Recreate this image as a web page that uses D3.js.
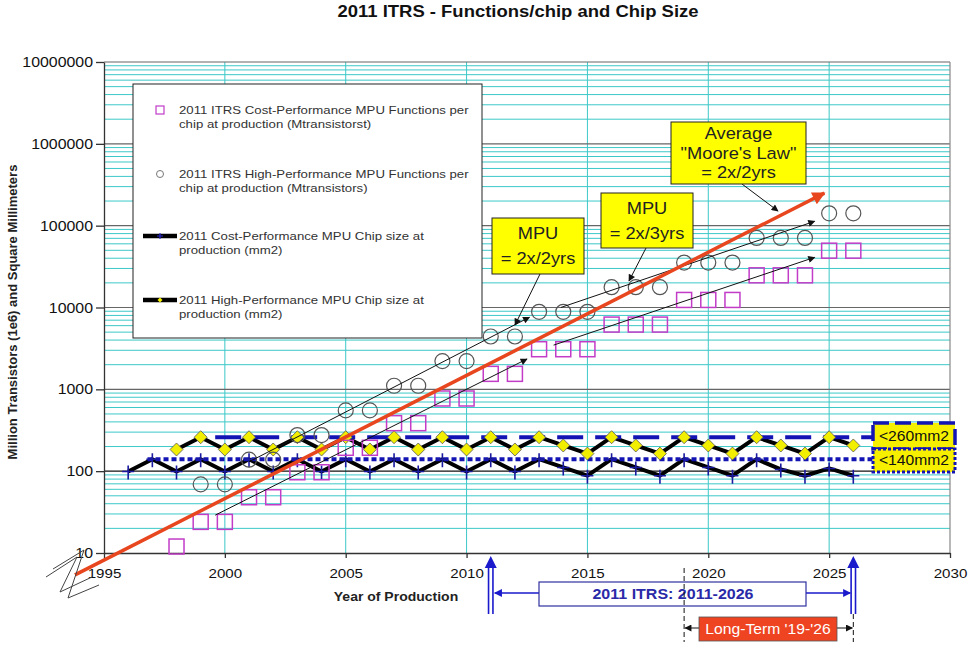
<!DOCTYPE html>
<html>
<head>
<meta charset="utf-8">
<script src="https://cdn.jsdelivr.net/npm/d3@7"></script>
<style>
body { margin: 0; background: #fff; }
svg { display: block; }
</style>
</head>
<body>
<div id="chart"></div>
<script>
var width = 969,
	height = 645,
	FONT = "'Liberation Sans', Arial, Helvetica, sans-serif",
	SX = 1.12;   // the picture is a bit stretched sideways, so is the text

// ---- data ----
var cpYears = [1998, 1999, 2000, 2001, 2002, 2003, 2004, 2005, 2006, 2007, 2008, 2009, 2010,
	2011, 2012, 2013, 2014, 2015, 2016, 2017, 2018, 2019, 2020, 2021, 2022, 2023, 2024, 2025, 2026];
var cpFunctions = [12, 24, 24, 48, 48, 97, 97, 193, 193, 386, 386, 773, 773,
	1546, 1546, 3092, 3092, 3092, 6184, 6184, 6184, 12368, 12368, 12368, 24736, 24736, 24736, 49471, 49471];

var hpYears = [1999, 2000, 2001, 2002, 2003, 2004, 2005, 2006, 2007, 2008, 2009, 2010,
	2011, 2012, 2013, 2014, 2015, 2016, 2017, 2018, 2019, 2020, 2021, 2022, 2023, 2024, 2025, 2026];
var hpFunctions = [69, 69, 138, 138, 276, 276, 553, 553, 1106, 1106, 2212, 2212,
	4424, 4424, 8848, 8848, 8848, 17696, 17696, 17696, 35391, 35391, 35391, 70782, 70782, 70782, 141564, 141564];

var cpChipYears = [1996, 1997, 1998, 1999, 2000, 2001, 2002, 2003, 2004, 2005, 2006, 2007, 2008, 2009, 2010,
	2011, 2012, 2013, 2014, 2015, 2016, 2017, 2018, 2019, 2020, 2021, 2022, 2023, 2024, 2025, 2026];
var cpChipSize = [99, 140, 99, 140, 99, 140, 99, 140, 99, 140, 99, 140, 99, 140, 99,
	140, 99, 140, 111, 88, 140, 111, 88, 140, 111, 88, 140, 105, 88, 108, 88];

var hpChipYears = [1998, 1999, 2000, 2001, 2002, 2003, 2004, 2005, 2006, 2007, 2008, 2009, 2010,
	2011, 2012, 2013, 2014, 2015, 2016, 2017, 2018, 2019, 2020, 2021, 2022, 2023, 2024, 2025, 2026];
var hpChipSize = [184, 260, 184, 260, 184, 260, 184, 260, 184, 260, 184, 260, 184,
	260, 184, 260, 206, 164, 260, 206, 164, 260, 206, 164, 260, 206, 164, 260, 206];

var limitValues = [260, 140];
var limitLabels = ["<260mm2", "<140mm2"];
var limitStart = [1999.6, 1996.8];
var limitEnd = 2026.8;

// average Moore's law, 2x every 2 years
var mooreLine = [[1993.8, 5.4], [2024.8, 250000]];
// MPU trend arrows: cost-perf 2x/2yrs, high-perf 2x/2yrs, cost-perf 2x/3yrs, high-perf 2x/3yrs
var trendLines = [
	[[1999.6, 29], [2012.5, 2350]],
	[[2001.0, 130], [2012.6, 7600]],
	[[2013.6, 3470], [2024.4, 41000]],
	[[2013.9, 10000], [2024.4, 113000]]
];

var xTicks = [1995, 2000, 2005, 2010, 2015, 2020, 2025, 2030];
var yTicks = [10, 100, 1000, 10000, 100000, 1000000, 10000000];
var itrsStart = 2011, itrsEnd = 2026, longTermStart = 2019;

var legendLabels = [
	["2011 ITRS Cost-Performance MPU Functions per", "chip at production (Mtransistorst)"],
	["2011 ITRS High-Performance MPU Functions per", "chip at production (Mtransistors)"],
	["2011 Cost-Performance MPU Chip size at", "production (mm2)"],
	["2011 High-Performance MPU Chip size at", "production (mm2)"]
];

// ---- setup ----
var svg = d3.select("#chart").append("svg")
	.attr("width", width)
	.attr("height", height);

var x = d3.scaleLinear().domain([1995, 2030]).range([104, 950]);
var y = d3.scaleLog().domain([10, 1e7]).range([553, 62]);

var defs = svg.append("defs");
function marker(id, color, w, h) {
	defs.append("marker")
		.attr("id", id)
		.attr("viewBox", "0 0 10 10")
		.attr("refX", 9).attr("refY", 5)
		.attr("markerWidth", w).attr("markerHeight", h)
		.attr("markerUnits", "userSpaceOnUse")
		.attr("orient", "auto")
		.append("path")
		.attr("d", "M0,0L10,5L0,10z")
		.attr("fill", color);
}
marker("arrRed", "#e8461e", 18, 13);
marker("arrBlack", "#111", 10, 7);
marker("arrBlue", "#1a1acc", 11, 8);

function txt(g, px, py, s, size, opt) {
	opt = opt || {};
	return g.append("text")
		.attr("transform", "translate(" + px + "," + py + ") scale(" + SX + ",1)")
		.attr("dy", "0.35em")
		.attr("text-anchor", opt.anchor || "start")
		.attr("font-family", FONT)
		.attr("font-size", size)
		.attr("font-weight", opt.weight || "normal")
		.attr("fill", opt.fill || "#111")
		.text(s);
}

// ---- grid ----
var grid = svg.append("g");
var minor = [];
for (var e = 1; e < 7; e++) {
	for (var k = 2; k < 10; k++) minor.push(k * Math.pow(10, e));
}
grid.selectAll("line.minor").data(minor).enter().append("line")
	.attr("x1", x(1995)).attr("x2", x(2030))
	.attr("y1", function(d) { return y(d); })
	.attr("y2", function(d) { return y(d); })
	.attr("stroke", "#3cc8c8").attr("stroke-width", 1);
grid.selectAll("line.vert").data([2000, 2005, 2010, 2015, 2020, 2025]).enter().append("line")
	.attr("x1", function(d) { return x(d); })
	.attr("x2", function(d) { return x(d); })
	.attr("y1", y(1e7)).attr("y2", y(10))
	.attr("stroke", "#3cc8c8").attr("stroke-width", 1);
grid.selectAll("line.major").data(yTicks.slice(1)).enter().append("line")
	.attr("x1", x(1995)).attr("x2", x(2030))
	.attr("y1", function(d) { return y(d); })
	.attr("y2", function(d) { return y(d); })
	.attr("stroke", function(d) { return d == 100 ? "#111" : "#666"; })
	.attr("stroke-width", 1.2);
grid.append("line")
	.attr("x1", x(2030)).attr("x2", x(2030))
	.attr("y1", y(1e7)).attr("y2", y(10))
	.attr("stroke", "#888").attr("stroke-width", 1.2);

// ---- axes ----
var yAxis = svg.append("g")
	.attr("transform", "translate(" + x(1995) + ",0)")
	.call(d3.axisLeft(y).tickValues(yTicks).tickFormat(d3.format("d"))
		.tickSize(8).tickSizeOuter(0).tickPadding(3));
var xAxis = svg.append("g")
	.attr("transform", "translate(0," + y(10) + ")")
	.call(d3.axisBottom(x).tickValues(xTicks).tickFormat(d3.format("d"))
		.tickSize(5).tickSizeOuter(0).tickPadding(10));
[yAxis, xAxis].forEach(function(a) {
	a.selectAll("path, line").attr("stroke", "#333").attr("stroke-width", 1.3);
	a.selectAll("text")
		.attr("font-family", FONT).attr("font-size", 13.5).attr("fill", "#111")
		.attr("transform", "scale(" + SX + ",1)");
});
yAxis.selectAll("text").attr("x", -11 / SX).attr("font-size", 14.2);

// ---- chip size lines ----
var line = d3.line()
	.x(function(d) { return x(d[0]); })
	.y(function(d) { return y(d[1]); });

var cpChip = d3.zip(cpChipYears, cpChipSize);
var hpChip = d3.zip(hpChipYears, hpChipSize);

svg.append("path").datum(cpChip).attr("d", line)
	.attr("fill", "none").attr("stroke", "#000").attr("stroke-width", 4).attr("stroke-linejoin", "round");
svg.append("path").datum(hpChip).attr("d", line)
	.attr("fill", "none").attr("stroke", "#000").attr("stroke-width", 4).attr("stroke-linejoin", "round");

// limit lines
limitValues.forEach(function(v, i) {
	svg.append("line")
		.attr("x1", x(limitStart[i])).attr("x2", x(limitEnd))
		.attr("y1", y(v)).attr("y2", y(v))
		.attr("stroke", "#1414b4").attr("stroke-width", 4)
		.attr("stroke-dasharray", i == 0 ? "26,12" : "5,3");
});

// markers on chip lines
svg.selectAll("path.plus").data(cpChip).enter().append("path")
	.attr("transform", function(d) { return "translate(" + x(d[0]) + "," + y(d[1]) + ")"; })
	.attr("d", "M-6,0H6M0,-6V8")
	.attr("stroke", "#1a1aa0").attr("stroke-width", 1.6);
svg.selectAll("path.diamond").data(hpChip).enter().append("path")
	.attr("transform", function(d) { return "translate(" + x(d[0]) + "," + y(d[1]) + ")"; })
	.attr("d", "M0,-6.5L6.5,0L0,6.5L-6.5,0Z")
	.attr("fill", "#f2ee00").attr("stroke", "#555").attr("stroke-width", 0.8);

// ---- functions per chip ----
svg.selectAll("rect.cp").data(d3.zip(cpYears, cpFunctions)).enter().append("rect")
	.attr("x", function(d) { return x(d[0]) - 7.5; })
	.attr("y", function(d) { return y(d[1]) - 7.5; })
	.attr("width", 15).attr("height", 15)
	.attr("fill", "none").attr("stroke", "#c23cc8").attr("stroke-width", 1.5);
svg.selectAll("circle.hp").data(d3.zip(hpYears, hpFunctions)).enter().append("circle")
	.attr("cx", function(d) { return x(d[0]); })
	.attr("cy", function(d) { return y(d[1]); })
	.attr("r", 7.5)
	.attr("fill", "none").attr("stroke", "#555").attr("stroke-width", 1.2);

// trend arrows
trendLines.forEach(function(t) {
	svg.append("path").datum(t).attr("d", line)
		.attr("fill", "none").attr("stroke", "#111").attr("stroke-width", 1)
		.attr("marker-end", "url(#arrBlack)");
});

// Moore's law
svg.append("path").datum(mooreLine).attr("d", line)
	.attr("fill", "none").attr("stroke", "#e8461e").attr("stroke-width", 3.5)
	.attr("marker-end", "url(#arrRed)");

// axis break squiggle
svg.append("path").attr("d", "M46,577L77,557L60,592L92,577")
	.attr("fill", "none").attr("stroke", "#444").attr("stroke-width", 1);
svg.append("path").attr("d", "M53,569L84,550L68,598L99,585")
	.attr("fill", "none").attr("stroke", "#444").attr("stroke-width", 1);

// ---- size limit labels ----
var lb = svg.append("g");
lb.append("rect").attr("x", 873).attr("y", 423).attr("width", 82).attr("height", 26)
	.attr("fill", "#f6f000").attr("stroke", "#1414b4").attr("stroke-width", 3.5).attr("stroke-dasharray", "16,6");
lb.append("rect").attr("x", 873).attr("y", 449).attr("width", 82).attr("height", 23)
	.attr("fill", "#f6f000").attr("stroke", "#1414b4").attr("stroke-width", 3).attr("stroke-dasharray", "3,2");
txt(lb, 914, 436, limitLabels[0], 14, { anchor: "middle" });
txt(lb, 914, 460, limitLabels[1], 14, { anchor: "middle" });

// ---- callouts ----
function callout(bx, by, bw, bh, lines, from, to) {
	var g = svg.append("g");
	g.append("line").attr("x1", from[0]).attr("y1", from[1]).attr("x2", to[0]).attr("y2", to[1])
		.attr("stroke", "#111").attr("stroke-width", 1).attr("marker-end", "url(#arrBlack)");
	g.append("rect").attr("x", bx).attr("y", by).attr("width", bw).attr("height", bh)
		.attr("fill", "#ffff00").attr("stroke", "#222").attr("stroke-width", 1);
	var step = bh / (lines.length + 0.2);
	lines.forEach(function(s, i) {
		txt(g, bx + bw / 2, by + step * (i + 0.6), s, 16.3, { anchor: "middle", fill: "#222" });
	});
}
callout(492, 218, 92, 56, ["MPU", "= 2x/2yrs"], [540, 274], [515, 325]);
callout(601, 193, 92, 55, ["MPU", "= 2x/3yrs"], [646, 248], [629, 281]);
callout(671, 122, 135, 62, ["Average", "\"Moore's Law\"", "= 2x/2yrs"], [742, 184], [778, 211]);

// ---- legend ----
var leg = svg.append("g");
leg.append("rect").attr("x", 133).attr("y", 84).attr("width", 349).attr("height", 254)
	.attr("fill", "#fff").attr("stroke", "#222").attr("stroke-width", 1);
var legY = [110, 174, 236, 300];
leg.append("rect").attr("x", 156).attr("y", legY[0] - 4).attr("width", 8).attr("height", 8)
	.attr("fill", "none").attr("stroke", "#c23cc8").attr("stroke-width", 1.2);
leg.append("circle").attr("cx", 160).attr("cy", legY[1]).attr("r", 3.5)
	.attr("fill", "none").attr("stroke", "#777").attr("stroke-width", 1);
[2, 3].forEach(function(i) {
	leg.append("line").attr("x1", 143).attr("x2", 177).attr("y1", legY[i]).attr("y2", legY[i])
		.attr("stroke", "#000").attr("stroke-width", 4.5);
});
leg.append("path").attr("transform", "translate(160," + legY[2] + ")")
	.attr("d", "M-3,0H3M0,-3V3").attr("stroke", "#2a2ad0").attr("stroke-width", 1.2);
leg.append("path").attr("transform", "translate(160," + legY[3] + ")")
	.attr("d", "M0,-2.5L2.5,0L0,2.5L-2.5,0Z").attr("fill", "#f2ee00");
legendLabels.forEach(function(l, i) {
	txt(leg, 179, legY[i], l[0], 11.8, { fill: "#333" });
	txt(leg, 179, legY[i] + 14, l[1], 11.8, { fill: "#333" });
});

// ---- titles ----
txt(svg, 518, 11, "2011 ITRS - Functions/chip and Chip Size", 16.5, { anchor: "middle", weight: "bold" });
txt(svg, 396, 597, "Year of Production", 12.5, { anchor: "middle", weight: "bold", fill: "#222" });
svg.append("text")
	.attr("transform", "translate(12,312) rotate(-90)")
	.attr("dy", "0.35em")
	.attr("text-anchor", "middle")
	.attr("font-family", FONT).attr("font-size", 13).attr("font-weight", "bold").attr("fill", "#222")
	.text("Million Transistors (1e6) and Square Millimeters");

// ---- roadmap span below the axis ----
var bot = svg.append("g");
[itrsStart, itrsEnd].forEach(function(yr) {
	var cx = x(yr);
	bot.append("path").attr("d", "M" + (cx - 2.2) + ",566V614M" + (cx + 2.2) + ",566V614")
		.attr("stroke", "#1a1acc").attr("stroke-width", 1.6);
	bot.append("path").attr("d", "M" + (cx - 6) + ",568L" + cx + ",556L" + (cx + 6) + ",568Z")
		.attr("fill", "#1a1acc");
});
bot.append("line").attr("x1", 539).attr("x2", x(itrsStart) + 4).attr("y1", 593).attr("y2", 593)
	.attr("stroke", "#1a1acc").attr("stroke-width", 1.3).attr("marker-end", "url(#arrBlue)");
bot.append("line").attr("x1", 806).attr("x2", x(itrsEnd) - 3).attr("y1", 593).attr("y2", 593)
	.attr("stroke", "#1a1acc").attr("stroke-width", 1.3).attr("marker-end", "url(#arrBlue)");
bot.append("rect").attr("x", 539).attr("y", 582).attr("width", 267).attr("height", 24)
	.attr("fill", "#fff").attr("stroke", "#3030a0").attr("stroke-width", 1.2);
txt(bot, 673, 594, "2011 ITRS:  " + itrsStart + "-" + itrsEnd, 14.3, { anchor: "middle", weight: "bold", fill: "#2a2aa8" });

bot.append("line").attr("x1", x(longTermStart)).attr("x2", x(longTermStart)).attr("y1", 568).attr("y2", 642)
	.attr("stroke", "#111").attr("stroke-width", 1).attr("stroke-dasharray", "5,3");
bot.append("line").attr("x1", x(itrsEnd)).attr("x2", x(itrsEnd)).attr("y1", 614).attr("y2", 642)
	.attr("stroke", "#111").attr("stroke-width", 1).attr("stroke-dasharray", "5,3");
bot.append("line").attr("x1", 699).attr("x2", x(longTermStart) + 1).attr("y1", 628).attr("y2", 628)
	.attr("stroke", "#111").attr("stroke-width", 1).attr("marker-end", "url(#arrBlack)");
bot.append("line").attr("x1", 837).attr("x2", x(itrsEnd) - 1).attr("y1", 628).attr("y2", 628)
	.attr("stroke", "#111").attr("stroke-width", 1).attr("marker-end", "url(#arrBlack)");
bot.append("rect").attr("x", 699).attr("y", 617).attr("width", 138).attr("height", 24)
	.attr("fill", "#ee4422").attr("stroke", "#555").attr("stroke-width", 0.8);
txt(bot, 768, 629, "Long-Term '19-'26", 14, { anchor: "middle", fill: "#fff" });
</script>
</body>
</html>
